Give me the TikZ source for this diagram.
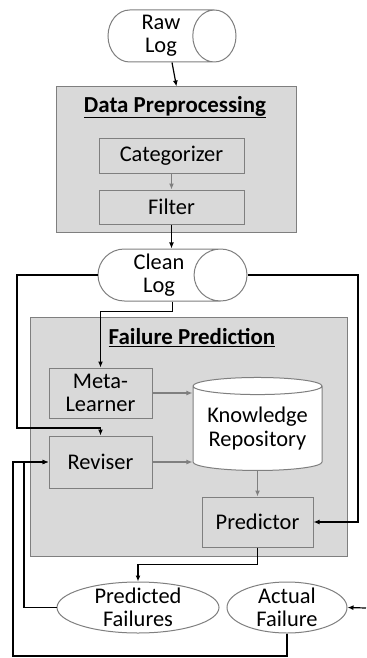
\documentclass[tikz,border=0pt]{standalone}
\usepackage{fontspec}
\setmainfont{Carlito}
\usepackage{xcolor}
\usetikzlibrary{positioning, arrows.meta, shapes.geometric, calc}
\definecolor{edgegray}{RGB}{127,127,127}
\definecolor{boxgray}{RGB}{217,217,217}
\tikzset{
    every node/.style={font=\fontsize{22.5}{23}\selectfont, align=center},
    stage/.style={draw=edgegray, fill=boxgray, line width=1bp, inner sep=0pt},
    block/.style={draw=edgegray, fill=boxgray, line width=1bp, inner sep=0pt},
    heading/.style={font=\fontsize{23}{24}\selectfont\bfseries},
    logfile/.style={cylinder, draw=edgegray, fill=white, line width=1bp,
        inner sep=0pt, anchor=shape center},
    store/.style={cylinder, shape border rotate=90, draw=edgegray, fill=white,
        line width=1bp, inner sep=0pt, aspect=0.17},
    result/.style={ellipse, draw=edgegray, fill=white, line width=1bp,
        inner xsep=0pt, inner ysep=-6bp},
    flow/.style={-{Latex[length=6bp,width=5bp]}, line width=1.2bp},
    inner/.style={flow, draw=edgegray},
}

\begin{document}
\begin{tikzpicture}[x=1bp, y=1bp]
    \useasboundingbox (0,0) rectangle (366,-658);

    % input log
    \node[logfile, aspect=1.05, minimum width=52bp, minimum height=128bp] (raw) at (172,-36) {Raw\\Log};

    % preprocessing stage
    \node[stage, minimum width=239bp, minimum height=145bp] (dp) at (176.5,-159.5) {};
    \node[heading] (dptitle) at (175,-107) {\underline{Data Preprocessing}};
    \node[block, minimum width=145bp, minimum height=35bp] (cat) at (171.5,-155.5) {Categorizer};
    \node[block, minimum width=145bp, minimum height=34bp] (filt) at (171.5,-207) {Filter};

    \node[logfile, aspect=1.25, minimum width=52bp, minimum height=149bp] (clean) at (172.5,-275) {Clean\\Log};

    % prediction stage
    \node[stage, minimum width=316bp, minimum height=239bp] (fp) at (189,-436.5) {};
    \node[heading] (fptitle) at (192,-338) {\underline{Failure Prediction}};
    \node[block, minimum width=103bp, minimum height=50bp] (meta) at (100.5,-393) {Meta-\\Learner};
    \node[block, minimum width=103bp, minimum height=52bp] (rev) at (100.5,-462) {Reviser};
    \node[store, minimum width=129bp, minimum height=93bp] (know) at (257.5,-428.5) {Knowledge\\[2bp]Repository};
    \node[block, minimum width=111bp, minimum height=50bp] (pred) at (257.5,-522) {Predictor};

    % outcomes
    \node[result, minimum width=162bp, minimum height=51bp] (pf) at (138,-607.5) {Predicted\\Failures};
    \node[result, minimum width=120bp, minimum height=51bp] (actual) at (287,-607.5) {Actual\\Failure};

    \coordinate (leftrail) at (17,-428);
    \coordinate (rightrail) at (358,0);
    \coordinate (feedrail) at (24,0);
    \coordinate (outer) at (13,-656);
    \coordinate (actualin) at (366,-608);

    \draw[flow] (raw.shape center |- raw.south) -- (dp.north);
    \draw[inner] (cat.south) -- (filt.north);
    \draw[flow] (filt.south) -- (filt.south |- clean.north);
    \draw[flow] (clean.shape center |- clean.south) -- ++(0,-10) -| (meta.north);
    \draw[flow] (clean.west) -| (leftrail) -| (rev.north);
    \draw[flow] (clean.east) -- (clean.east -| rightrail) |- (pred.east);
    \draw[inner] (meta.east) -- (meta.east -| know.west);
    \draw[inner] (rev.east) -- (rev.east -| know.west);
    \draw[inner] (know.south) -- (pred.north);
    \draw[flow] (pred.south) -- ++(0,-17) -| (pf.north);
    \draw[flow] (pf.west) -- (pf.west -| feedrail) |- (rev.west);
    \draw[flow] (actual.south) |- (outer) |- (rev.west);
    \draw[flow] (actualin) -- (actual.east);
\end{tikzpicture}
\end{document}
